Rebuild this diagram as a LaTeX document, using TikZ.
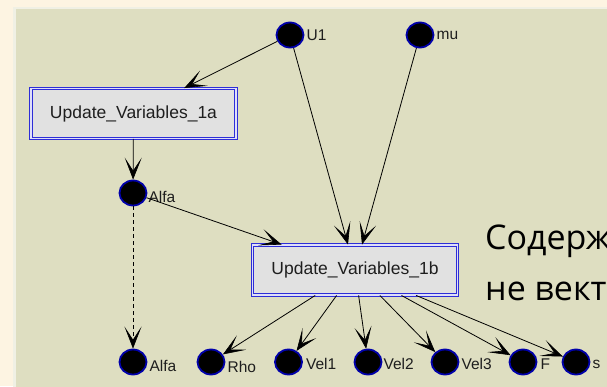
\documentclass[tikz,border=0pt]{standalone}
\usepackage{fontspec}
\setmainfont{Liberation Sans}
\newfontfamily\rufont{Open Sans}
\usetikzlibrary{arrows.meta,shapes.geometric}
\definecolor{outerbg}{RGB}{253,244,226}
\definecolor{panelbg}{RGB}{222,222,193}
\definecolor{panelrim}{RGB}{240,240,228}
\definecolor{ringblue}{RGB}{0,0,170}
\definecolor{boxblue}{RGB}{45,45,215}
\definecolor{boxfill}{RGB}{225,225,225}
\definecolor{txt}{RGB}{30,30,30}
\begin{document}
\begin{tikzpicture}[x=1pt,y=-1pt,
  vnode/.style={ellipse, fill=black, draw=ringblue, line width=1.8pt,
    minimum width=27pt, minimum height=25pt, inner sep=0pt},
  lbl/.style={font=\fontsize{15.5}{15.5}\selectfont, inner sep=0pt, anchor=west, text=txt},
  procbox/.style={rectangle, fill=boxfill, draw=boxblue, line width=0.9pt,
    double=white!85!boxblue, double distance=1.6pt,
    minimum width=205pt, minimum height=50pt, inner sep=0pt,
    font=\fontsize{17.5}{17.5}\selectfont, text=txt},
  conn/.style={-{Stealth[length=22pt,width=17pt,inset=13pt,line width=0.6pt]}, line width=0.8pt},
  dconn/.style={conn, dash pattern=on 4pt off 3pt},
  rutext/.style={font=\rufont\fontsize{34}{34}\selectfont, inner sep=0pt, anchor=base west, text=black}
]
\useasboundingbox (0,0) rectangle (607,386);
\clip (0,0) rectangle (607,386);
% background
\fill[outerbg] (0,0) rectangle (607,386);
\fill[panelrim] (13,6.5) rectangle (612,392);
\fill[panelbg] (15.5,9) rectangle (612,392);

% nodes
\node[vnode] (U1) at (290,35) {};
\node[vnode] (mu) at (420,35) {};
\node[procbox] (b1a) at (133.5,113.5) {Update\_Variables\_1a};
\node[vnode] (A1) at (133,193) {};
\node[procbox] (b1b) at (355,270) {Update\_Variables\_1b};
\node[vnode] (A2) at (133,362) {};
\node[vnode] (Rho) at (211,362) {};
\node[vnode] (V1) at (288.5,362) {};
\node[vnode] (V2) at (368,362) {};
\node[vnode] (V3) at (445,362) {};
\node[vnode] (F) at (523,362) {};
\node[vnode] (S) at (576,362) {};

% labels
\node[lbl] (lU1) at ([xshift=2pt]U1.east) {U1};
\node[lbl] (lmu) at ([xshift=2pt]mu.east) {mu};
\node[lbl] (lA1) at ([xshift=1pt,yshift=-4pt]A1.east) {Alfa};
\node[lbl] (lA2) at ([xshift=2pt,yshift=-4pt]A2.east) {Alfa};
\node[lbl] (lRho) at ([xshift=2pt,yshift=-5pt]Rho.east) {Rho};
\node[lbl] (lV1) at ([xshift=3pt,yshift=-2pt]V1.east) {Vel1};
\node[lbl] (lV2) at ([xshift=1pt,yshift=-2pt]V2.east) {Vel2};
\node[lbl] (lV3) at ([xshift=2pt,yshift=-2pt]V3.east) {Vel3};
\node[lbl] (lF) at ([xshift=3pt,yshift=-2pt]F.east) {F};
\node[lbl] (lS) at ([xshift=2pt,yshift=-2pt]S.east) {s};

% connectors
\draw[conn] (U1) -- (b1a);
\draw[conn] (U1) -- (b1b);
\draw[conn] (mu) -- (b1b);
\draw[conn] (b1a) -- (A1);
\draw[conn] (A1) -- (b1b);
\draw[dconn] (A1) -- (A2);
\draw[conn] (b1b) -- (Rho);
\draw[conn] (b1b) -- (V1);
\draw[conn] (b1b) -- (V2);
\draw[conn] (b1b) -- (V3);
\draw[conn] (b1b) -- (F);
\draw[conn] (b1b) -- (S);

% slide text
\node[rutext] (t1) at (485,249) {Содерж};
\node[rutext] (t2) at (485,300) {не вект};
\end{tikzpicture}
\end{document}
